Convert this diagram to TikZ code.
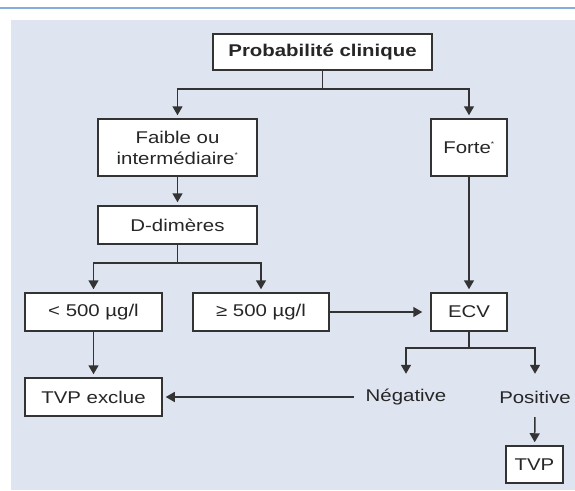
\documentclass[tikz,border=0pt]{standalone}
\usepackage{fontspec}
\setmainfont{Liberation Sans}[FakeStretch=1.2]
\usetikzlibrary{arrows.meta}
\definecolor{fond}{HTML}{DFE4F1}
\definecolor{filet}{HTML}{86AEDC}
\definecolor{trait}{HTML}{333333}
\definecolor{texte}{HTML}{262626}

\begin{document}
\begin{tikzpicture}[x=1pt, y=-1pt,
  font=\fontsize{17}{21}\selectfont,
  boite/.style={draw=trait, fill=white, line width=1.5pt, minimum height=38pt, inner sep=0pt, align=center, text=texte},
  etiq/.style={minimum height=40pt, inner xsep=12pt, inner ysep=0pt, text=texte},
  lien/.style={draw=trait, line width=1.5pt},
  fleche/.style={lien, -{Triangle[length=9pt,width=10pt]}, shorten >=3pt}]
\useasboundingbox (0,0) rectangle (575,490);
\fill[fond] (11,20) rectangle (575,490);
\draw[filet, line width=1.5pt] (0,8) -- (575,8);
% boites
\node (proba)[boite, minimum width=219pt, minimum height=36pt, font=\fontsize{17}{21}\selectfont\bfseries] at (322.5,52) {Probabilité clinique};
\node (faible)[boite, minimum width=159pt, minimum height=57pt] at (177.5,147.5) {Faible ou\\intermédiaire\textsuperscript{\scriptsize *}};
\node (forte)[boite, minimum width=76pt, minimum height=57pt] at (469,147.5) {Forte\textsuperscript{\scriptsize *}};
\node (ddim)[boite, minimum width=159pt] at (177.5,225) {D-dimères};
\node (inf)[boite, minimum width=137pt] at (93.5,312) {< 500 µg/l};
\node (sup)[boite, minimum width=136pt] at (261,312) {≥ 500 µg/l};
\node (ecv)[boite, minimum width=76pt] at (469,312) {ECV};
\node (tvpex)[boite, minimum width=137pt] at (93.5,397) {TVP exclue};
\node (neg)[etiq] at (406,397) {Négative};
\node (pos)[etiq] at (535,397) {Positive};
\node (tvp)[boite, minimum width=57pt, minimum height=37pt] at (534.5,464.5) {TVP};
% embranchements
\coordinate (b1) at (322.5,89);
\coordinate (b2) at (177.5,263);
\coordinate (b3) at (469,348);
% fleches
\draw[fleche] (proba.south) -- (b1) -| (faible.north);
\draw[fleche] (proba.south) -- (b1) -| (forte.north);
\draw[fleche] (faible) -- (ddim);
\draw[fleche] (ddim.south) -- (b2) -| (inf.north);
\draw[fleche] (ddim.south) -- (b2) -| (sup.north);
\draw[fleche] (forte) -- (ecv);
\draw[fleche, shorten >=8pt] (sup) -- (ecv);
\draw[fleche] (inf) -- (tvpex);
\draw[fleche] (ecv.south) -- (b3) -| (neg.north);
\draw[fleche] (ecv.south) -- (b3) -| (pos.north);
\draw[fleche] (neg) -- (tvpex);
\draw[fleche] (pos) -- (tvp);
\end{tikzpicture}
\end{document}
